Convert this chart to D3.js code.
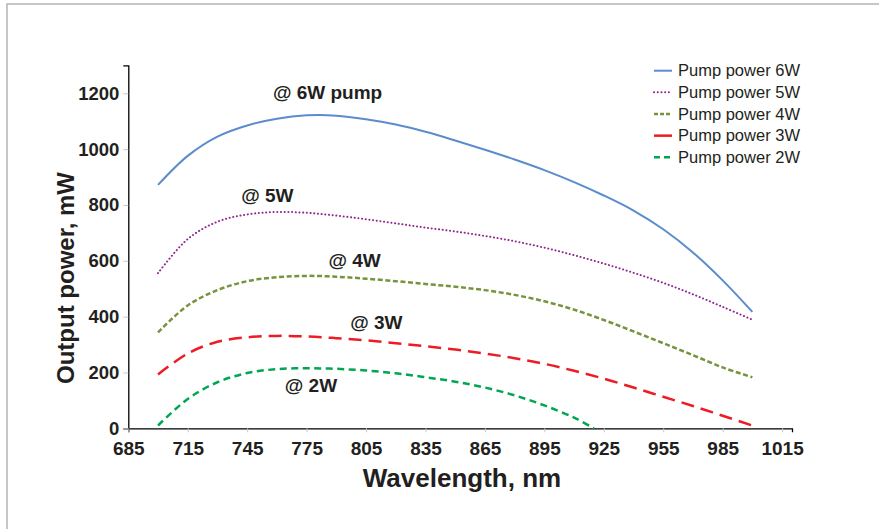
<!DOCTYPE html>
<html>
<head>
<meta charset="utf-8">
<script src="https://cdn.jsdelivr.net/npm/d3@7"></script>
<style>
  body { margin: 0; background: #fff; }
  text { font-family: "Liberation Sans", Arial, Helvetica, sans-serif; fill: #231f20; }
</style>
</head>
<body>
<div id="chart"></div>
<script>
"use strict";

// Data
const wavelengths = [700, 715, 730, 745, 760, 775, 790, 805, 820, 835, 850, 865, 880, 895, 910, 925, 940, 955, 970, 985, 1000];
const power6W = [872, 976, 1045, 1085, 1109, 1121, 1120, 1107, 1088, 1062, 1031, 998, 963, 925, 882, 834, 780, 713, 630, 530, 417];
const power5W = [556, 678, 740, 766, 775, 772, 762, 749, 734, 719, 705, 689, 670, 647, 620, 590, 557, 521, 480, 435, 389];
const power4W = [344, 440, 495, 527, 541, 546, 543, 536, 527, 517, 507, 495, 478, 455, 425, 388, 347, 305, 262, 218, 183];
const power3W = [193, 268, 310, 326, 331, 329, 323, 315, 305, 294, 282, 268, 251, 231, 206, 178, 146, 113, 80, 45, 10];
const wavelengths2W = [700, 715, 730, 745, 760, 775, 790, 805, 820, 835, 850, 865, 880, 895, 910, 920];
const power2W = [10, 105, 165, 198, 212, 215, 213, 207, 197, 183, 167, 146, 118, 82, 38, 0];

const seriesNames = ["Pump power 6W", "Pump power 5W", "Pump power 4W", "Pump power 3W", "Pump power 2W"];
const xTicks = [685, 715, 745, 775, 805, 835, 865, 895, 925, 955, 985, 1015];
const yTicks = [0, 200, 400, 600, 800, 1000, 1200];

const annotations = [
  { text: "@ 6W pump", nm: 758, mW: 1178 },
  { text: "@ 5W", nm: 742, mW: 809 },
  { text: "@ 4W", nm: 786, mW: 577 },
  { text: "@ 3W", nm: 797, mW: 355 },
  { text: "@ 2W", nm: 764, mW: 131 }
];

const styles = [
  { color: "#5b8ccc", width: 2, dash: null, legendDash: null, cap: "butt" },
  { color: "#92278f", width: 2, dash: "0.1 3.6", legendDash: "0.1 3.6", cap: "round" },
  { color: "#77933c", width: 2.5, dash: "5 2.6", legendDash: "4 2", cap: "butt" },
  { color: "#ed1c24", width: 2.5, dash: "13 7", legendDash: null, cap: "butt" },
  { color: "#00a651", width: 2.5, dash: "7 4.5", legendDash: "6 4", cap: "butt" }
];

const series = [
  { name: seriesNames[0], values: wavelengths.map((w, i) => ({ nm: w, mW: power6W[i] })) },
  { name: seriesNames[1], values: wavelengths.map((w, i) => ({ nm: w, mW: power5W[i] })) },
  { name: seriesNames[2], values: wavelengths.map((w, i) => ({ nm: w, mW: power4W[i] })) },
  { name: seriesNames[3], values: wavelengths.map((w, i) => ({ nm: w, mW: power3W[i] })) },
  { name: seriesNames[4], values: wavelengths2W.map((w, i) => ({ nm: w, mW: power2W[i] })) }
];

const width = 879, height = 529;

const svg = d3.select("#chart")
  .append("svg")
  .attr("width", width)
  .attr("height", height);

// outer frame
svg.append("rect")
  .attr("x", 7).attr("y", 4)
  .attr("width", 1000).attr("height", 1000)
  .attr("fill", "#fff")
  .attr("stroke", "#b4b4b4")
  .attr("stroke-width", 1.5);

const x = d3.scaleLinear().domain([685, 1020]).range([128.3, 792]);
const y = d3.scaleLinear().domain([0, 1300]).range([428.3, 65.4]);

// y axis
const yAxis = svg.append("g")
  .attr("transform", `translate(${x(685)},0)`)
  .call(d3.axisLeft(y).tickValues(yTicks).tickFormat(d3.format("d")).tickSize(5).tickPadding(4));
yAxis.select(".domain").attr("stroke", "#000").attr("stroke-width", 1.3);
yAxis.selectAll(".tick line").attr("stroke", "#c8c8c8");
yAxis.selectAll(".tick text")
  .attr("font-size", 18.5)
  .attr("font-weight", "bold")
  .attr("font-family", "'Liberation Sans', Arial, sans-serif")
  .attr("fill", "#231f20");

// x axis
const xAxis = svg.append("g")
  .attr("transform", `translate(0,${y(0)})`)
  .call(d3.axisBottom(x).tickValues(xTicks).tickFormat(d3.format("d")).tickSize(4).tickPadding(9));
xAxis.select(".domain").attr("stroke", "#000").attr("stroke-width", 1.3);
xAxis.selectAll(".tick line").attr("stroke", "#c8c8c8");
xAxis.selectAll(".tick text")
  .attr("font-size", 19)
  .attr("font-weight", "bold")
  .attr("font-family", "'Liberation Sans', Arial, sans-serif")
  .attr("fill", "#231f20");

// axis titles
svg.append("text")
  .attr("x", 462).attr("y", 487)
  .attr("text-anchor", "middle")
  .attr("font-size", 26)
  .attr("font-weight", "bold")
  .text("Wavelength, nm");

svg.append("text")
  .attr("transform", "translate(74,278) rotate(-90)")
  .attr("text-anchor", "middle")
  .attr("font-size", 24)
  .attr("font-weight", "bold")
  .text("Output power, mW");

// curves
const line = d3.line()
  .x(d => x(d.nm))
  .y(d => y(d.mW))
  .curve(d3.curveCatmullRom.alpha(0.5));

svg.selectAll(".curve")
  .data(series)
  .join("path")
    .classed("curve", true)
    .attr("d", d => line(d.values))
    .attr("fill", "none")
    .attr("stroke", (d, i) => styles[i].color)
    .attr("stroke-width", (d, i) => styles[i].width)
    .attr("stroke-dasharray", (d, i) => styles[i].dash)
    .attr("stroke-linecap", (d, i) => styles[i].cap);

// curve labels
svg.selectAll(".anno")
  .data(annotations)
  .join("text")
    .classed("anno", true)
    .attr("x", d => x(d.nm))
    .attr("y", d => y(d.mW))
    .attr("font-size", 19)
    .attr("font-weight", "bold")
    .text(d => d.text);

// legend
const legend = svg.append("g")
  .selectAll("g")
  .data(seriesNames)
  .join("g")
    .attr("transform", (d, i) => `translate(654,${70.7 + i * 21.65})`);

legend.append("line")
  .attr("x1", 0).attr("x2", 18)
  .attr("stroke", (d, i) => styles[i].color)
  .attr("stroke-width", (d, i) => styles[i].width)
  .attr("stroke-dasharray", (d, i) => styles[i].legendDash)
  .attr("stroke-linecap", (d, i) => styles[i].cap);

legend.append("text")
  .attr("x", 24)
  .attr("y", 5.5)
  .attr("font-size", 16.5)
  .text(d => d);
</script>
</body>
</html>
